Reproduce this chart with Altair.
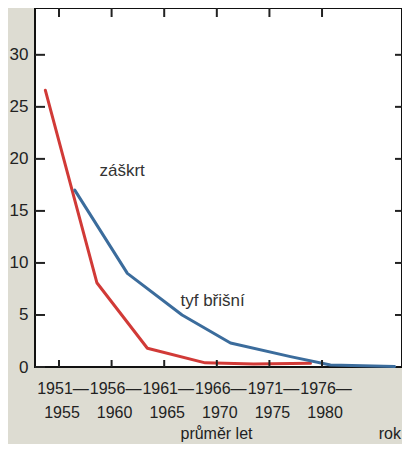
import altair as alt
import pandas as pd

# data
red_years = [1953.7, 1958.6, 1963.4, 1968.9, 1973.5, 1978.9]
red_vals = [26.6, 8.1, 1.8, 0.4, 0.3, 0.35]
blue_years = [1956.5, 1961.5, 1966.7, 1971.3, 1977.0, 1980.8, 1986.9]
blue_vals = [17.0, 9.0, 5.0, 2.3, 1.0, 0.2, 0.05]
tick_years = [1955, 1960, 1965, 1970, 1975, 1980]
row1 = ["1951—", "1956—", "1961—", "1966—", "1971—", "1976—"]
row2 = ["1955", "1960", "1965", "1970", "1975", "1980"]
y_ticks = [0, 5, 10, 15, 20, 25, 30]
y_ticks_right = [5, 10, 15, 20, 25, 30]

W, H = 367, 359
FONT = "Liberation Sans"
INK = "#222222"

xs = alt.Scale(domain=[1952.72, 1987.6], nice=False, zero=False)
ys = alt.Scale(domain=[0, 34.5], nice=False, zero=False)

lines = pd.DataFrame(
    {"year": red_years + blue_years,
     "val": red_vals + blue_vals,
     "series": ["záškrt"] * len(red_years) + ["tyf břišní"] * len(blue_years)}
)
ticks_x = pd.DataFrame({"year": tick_years, "r1": row1, "r2": row2})
ticks_y = pd.DataFrame({"v": y_ticks})
ticks_y_r = pd.DataFrame({"v": y_ticks_right})

base_line = alt.Chart(lines).mark_line(strokeWidth=3, strokeCap="round", strokeJoin="round").encode(
    x=alt.X("year:Q", scale=xs, axis=None),
    y=alt.Y("val:Q", scale=ys, axis=alt.Axis(values=y_ticks, ticks=False, domain=False, grid=False,
                                             labelFont=FONT, labelFontSize=17, labelColor=INK,
                                             labelPadding=7, title=None)),
    color=alt.Color("series:N", scale=alt.Scale(domain=["záškrt", "tyf břišní"],
                                                range=["#d13a37", "#3b6c9c"]), legend=None),
    order="year:Q",
)

left_ticks = alt.Chart(ticks_y).mark_rule(strokeWidth=2, color=INK).encode(
    y=alt.Y("v:Q", scale=ys), x=alt.value(0), x2=alt.value(10))
right_ticks = alt.Chart(ticks_y_r).mark_rule(strokeWidth=2, color=INK).encode(
    y=alt.Y("v:Q", scale=ys), x=alt.value(W - 7), x2=alt.value(W))
bottom_ticks = alt.Chart(ticks_x).mark_rule(strokeWidth=2, color=INK).encode(
    x=alt.X("year:Q", scale=xs), y=alt.value(H - 7), y2=alt.value(H))
top_ticks = alt.Chart(ticks_x).mark_rule(strokeWidth=2, color=INK).encode(
    x=alt.X("year:Q", scale=xs), y=alt.value(0), y2=alt.value(9))

lab1 = alt.Chart(ticks_x).mark_text(font=FONT, fontSize=16, color=INK, dx=4).encode(
    x=alt.X("year:Q", scale=xs), y=alt.value(H + 22), text="r1:N")
lab2 = alt.Chart(ticks_x).mark_text(font=FONT, fontSize=16, color=INK, dx=3).encode(
    x=alt.X("year:Q", scale=xs), y=alt.value(H + 46), text="r2:N")

ann_title = alt.Chart(pd.DataFrame({"t": ["průměr let"]})).mark_text(
    font=FONT, fontSize=16, color=INK).encode(
    x=alt.value(W / 2 - 2), y=alt.value(H + 67), text="t:N")
ann_rok = alt.Chart(pd.DataFrame({"t": ["rok"]})).mark_text(
    font=FONT, fontSize=16, color=INK, align="right").encode(
    x=alt.value(W - 1), y=alt.value(H + 67), text="t:N")

label_text = ["záškrt", "tyf břišní"]
label_year = [1961.0, 1969.6]
label_val = [18.8, 6.3]
series_labels = pd.DataFrame({"t": label_text, "year": label_year, "val": label_val})
slabels = alt.Chart(series_labels).mark_text(font=FONT, fontSize=17, color="#333", align="center").encode(
    x=alt.X("year:Q", scale=xs), y=alt.Y("val:Q", scale=ys), text="t:N")

chart = alt.layer(base_line, left_ticks, right_ticks, bottom_ticks, top_ticks,
                  lab1, lab2, ann_title, ann_rok, slabels).properties(
    width=W, height=H,
    autosize=alt.AutoSizeParams(type="none"),
    padding={"left": 27, "top": 0, "right": 0, "bottom": 77},
    background="#dddcd2",
).configure_view(fill="white", stroke="#111", strokeWidth=2)

chart.save("out.html", embed_options={"renderer": "svg", "actions": False})
